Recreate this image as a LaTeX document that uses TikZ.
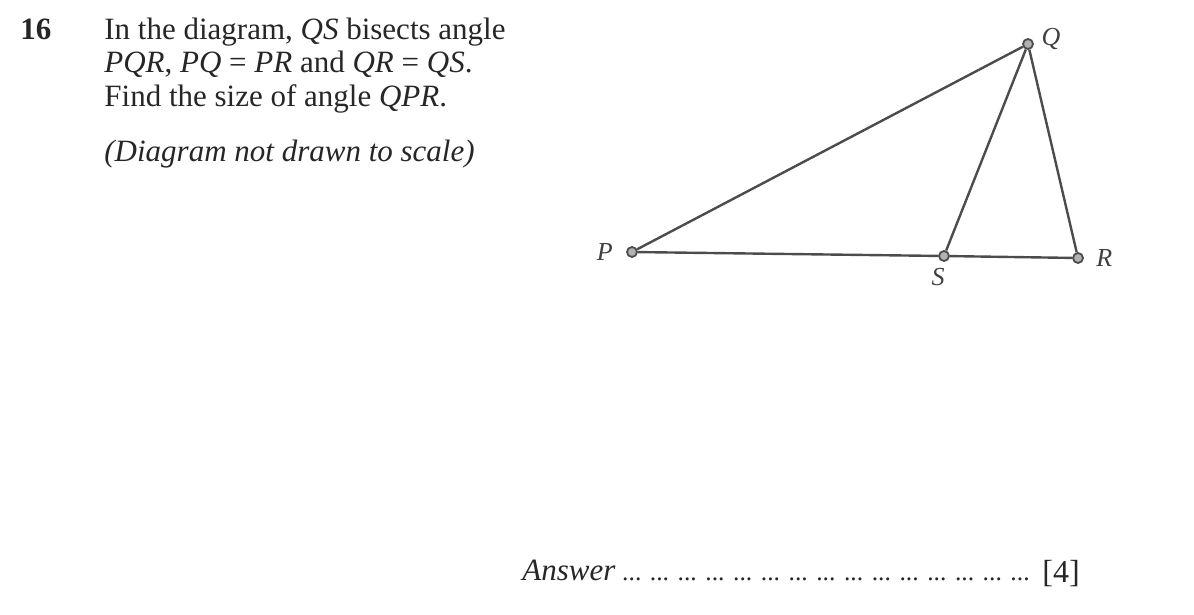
\documentclass[tikz,border=0pt]{standalone}
\usepackage{fontspec}
\setmainfont{Liberation Serif}
\usetikzlibrary{positioning}

\begin{document}
\begin{tikzpicture}
          [x=0.5pt,y=-0.5pt,
           vertex/.style={circle,draw=black!70,fill=black!30,line width=0.9pt,inner sep=0pt,minimum size=5pt},
           side/.style={draw=black!70,line width=1.2pt},
           lbl/.style={font=\itshape\fontsize{13}{15}\selectfont,text=black!75,inner sep=0pt},
           qtext/.style={anchor=base west,inner sep=0pt,font=\fontsize{15.5}{18}\selectfont,text=black!85},
           node distance=6pt
          ]
          \useasboundingbox (0,0) rectangle (1194,615);
          % question text
          \node[qtext,font=\bfseries\fontsize{15.5}{18}\selectfont] (num) at (20,40) {16};
          \node[qtext] (l1) at (104,40) {In the diagram, \textit{QS} bisects angle};
          \node[qtext] (l2) at (104,73) {\textit{PQR}, \textit{PQ} = \textit{PR} and \textit{QR} = \textit{QS}.};
          \node[qtext] (l3) at (104,107) {Find the size of angle \textit{QPR}.};
          \node[qtext] (note) at (104,162) {\textit{(Diagram not drawn to scale)}};
          % the triangle
          \node[vertex] (P) at (632,252) {};
          \node[vertex] (Q) at (1028,44) {};
          \node[vertex] (R) at (1078,258) {};
          \node[vertex] (S) at (944,256) {};
          \node[lbl,left=6.5pt of P] (pl) {P};
          \node[lbl,above right=-5pt and 4.5pt of Q] (ql) {Q};
          \node[lbl,right=of R] (rl) {R};
          \node[lbl,below=3pt of S,xshift=-3pt] (sl) {S};
          \draw[side]
            (P) edge (Q)
            (Q) edge (R)
            (P) edge (S)
            (S) edge (R)
            (Q) edge (S);
          % answer line
          \node[qtext,font=\itshape\fontsize{15.5}{18}\selectfont] (ans) at (522,580) {Answer};
          \node[qtext,font=\fontsize{12.8}{14}\selectfont,right=3pt of ans.base east,anchor=base west] (dots)
            {... ... ... ... ... ... ... ... ... ... ... ... ... ... ...};
          \node[qtext,font=\fontsize{16}{18}\selectfont] (mark) at (1042,582) {[4]};
        \end{tikzpicture}
\end{document}
